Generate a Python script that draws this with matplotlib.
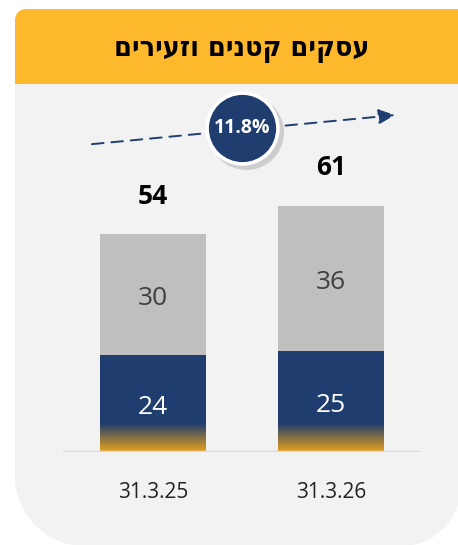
import matplotlib
matplotlib.use("Agg")
import matplotlib.pyplot as plt
import numpy as np
from matplotlib.path import Path
from matplotlib.patches import PathPatch
from matplotlib.colors import to_rgb

# ---- data ----
title = "עסקים קטנים וזעירים"
categories = ["31.3.25", "31.3.26"]
bottom_values = [24, 25]
top_values = [30, 36]
totals = [54, 61]
growth_label = "11.8%"

NAVY = "#1F3D6E"
GRAY = "#BFBFBF"
GOLD = "#E8A21C"
YELLOW = "#FDB92B"
PANEL = "#F2F2F2"
NUMFONT = ["Open Sans", "DejaVu Sans"]

W, H = 458, 545
fig = plt.figure(figsize=(W / 100, H / 100), dpi=100)
fig.patch.set_facecolor("white")

# background overlay in pixel coordinates
bg = fig.add_axes([0, 0, 1, 1], zorder=0)
bg.set_xlim(0, W)
bg.set_ylim(H, 0)
bg.axis("off")


def rounded_path(x0, y0, x1, y1, r_tl, r_tr, r_br, r_bl):
    k = 0.5523
    verts, codes = [], []
    verts.append((x0 + r_tl, y0)); codes.append(Path.MOVETO)
    verts.append((x1 - r_tr, y0)); codes.append(Path.LINETO)
    if r_tr:
        verts += [(x1 - r_tr + k * r_tr, y0), (x1, y0 + r_tr - k * r_tr), (x1, y0 + r_tr)]
        codes += [Path.CURVE4] * 3
    verts.append((x1, y1 - r_br)); codes.append(Path.LINETO)
    if r_br:
        verts += [(x1, y1 - r_br + k * r_br), (x1 - r_br + k * r_br, y1), (x1 - r_br, y1)]
        codes += [Path.CURVE4] * 3
    verts.append((x0 + r_bl, y1)); codes.append(Path.LINETO)
    if r_bl:
        verts += [(x0 + r_bl - k * r_bl, y1), (x0, y1 - r_bl + k * r_bl), (x0, y1 - r_bl)]
        codes += [Path.CURVE4] * 3
    verts.append((x0, y0 + r_tl)); codes.append(Path.LINETO)
    if r_tl:
        verts += [(x0, y0 + r_tl - k * r_tl), (x0 + r_tl - k * r_tl, y0), (x0 + r_tl, y0)]
        codes += [Path.CURVE4] * 3
    verts.append((x0 + r_tl, y0)); codes.append(Path.CLOSEPOLY)
    return Path(verts, codes)


bg.add_patch(PathPatch(rounded_path(15, 60, W + 2, 546, 0, 0, 58, 70),
                       facecolor=PANEL, edgecolor="none"))
bg.add_patch(PathPatch(rounded_path(15, 9, W + 2, 84, 11, 0, 0, 0),
                       facecolor=YELLOW, edgecolor="none"))
bg.text(242, 49, title[::-1], ha="center", va="center", fontsize=20.5,
        fontweight="heavy", color="black", family=["DejaVu Sans", "Liberation Sans"],
        fontstretch="condensed")

# ---- chart axes ----
px_per_unit = 4.04
ax_left, ax_right = 63, 420
base_y = 452
ax_top = 90
ax = fig.add_axes([ax_left / W, (H - base_y) / H, (ax_right - ax_left) / W,
                   (base_y - ax_top) / H], zorder=2)
ax.patch.set_alpha(0)
spacing = 178.0
x = np.arange(len(categories))
ax.set_xlim(-(153 - ax_left) / spacing, (ax_right - 153) / spacing)
ax.set_ylim(0, (base_y - ax_top) / px_per_unit)
bw = 106 / spacing

ax.bar(x, bottom_values, width=bw, color=NAVY, zorder=2)
ax.bar(x, top_values, width=bw, bottom=bottom_values, color=GRAY, zorder=2)

# gradient at the base of the navy segment
grad_h = 29 / px_per_unit
n = 64
c1, c2 = np.array(to_rgb(NAVY)), np.array(to_rgb(GOLD))
t = np.linspace(0, 1, n)[:, None]
grad = (c1 * (1 - t) + c2 * t)[:, None, :]
for xi in x:
    ax.imshow(grad, extent=[xi - bw / 2, xi + bw / 2, 0, grad_h], aspect="auto",
              origin="upper", zorder=3, interpolation="bilinear")

for xi, b, tp, tot in zip(x, bottom_values, top_values, totals):
    ax.text(xi, b / 2 - 1.0, str(b), ha="center", va="center", color="white",
            fontsize=19, family=NUMFONT, zorder=5)
    ax.text(xi, b + tp / 2 - 1.0, str(tp), ha="center", va="center", color="#404040",
            fontsize=19, family=NUMFONT, zorder=5)
    ax.text(xi, tot + 9.3, str(tot), ha="center", va="center", color="black",
            fontsize=19, fontweight="bold", family=NUMFONT, zorder=5)
    ax.text(xi, -10, categories[xi], ha="center", va="center", color="#222222",
            fontsize=15, family=NUMFONT, zorder=5, clip_on=False)

ax.axhline(0, color="#D9D9D9", lw=2.5, zorder=4)
for s in ax.spines.values():
    s.set_visible(False)
ax.set_xticks([])
ax.set_yticks([])

# dashed trend arrow
ax_x0, ax_y0 = -0.343, 76.2
ax_x1, ax_y1 = 1.36, 83.4
ax.annotate("", xy=(ax_x1, ax_y1), xytext=(ax_x0, ax_y0),
            arrowprops=dict(arrowstyle="-|>,head_length=1.0,head_width=0.45",
                            color=NAVY, lw=1.4, linestyle=(0, (6, 4)),
                            shrinkA=0, shrinkB=0), zorder=3)
cx, cy = 0.5, 80.2
ax.plot([cx + 0.02], [cy - 1.0], "o", ms=54, color="#000000", alpha=0.15,
        mec="none", zorder=4)
ax.plot([cx], [cy], "o", ms=51, color=NAVY, mec="white", mew=2.6, zorder=5)
ax.text(cx, cy, growth_label, ha="center", va="center", color="white",
        fontsize=14, fontweight="bold", family=NUMFONT, zorder=6)

fig.savefig("out.png", dpi=100, facecolor="white")
